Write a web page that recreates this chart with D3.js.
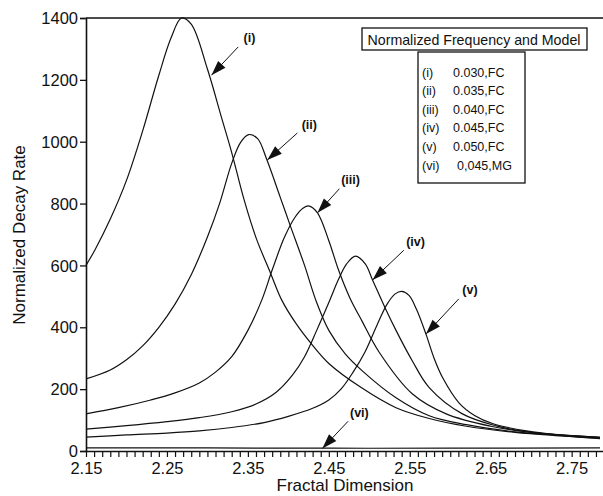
<!DOCTYPE html>
<html><head><meta charset="utf-8">
<script src="https://cdn.jsdelivr.net/npm/d3@7"></script>
<style>
html,body{margin:0;padding:0;background:#fff;}
svg{display:block;font-family:"Liberation Sans",Arial,Helvetica,sans-serif;}
</style></head>
<body>
<svg id="chart" width="603" height="496"></svg>
<script>
// ---- data ----
const d_i  = [2.15,2.161,2.18,2.20,2.22,2.24,2.255,2.268,2.28,2.30,2.317,2.33,2.345,2.36,2.378,2.392,2.41,2.428,2.45,2.49,2.533,2.574,2.62,2.68,2.73,2.785];
const v_i  = [600,650,750,875,1035,1215,1335,1400,1380,1235,1082,965,815,690,575,487,410,348,283,205,140,105,80,60,50,42];
const d_ii = [2.15,2.18,2.20,2.22,2.24,2.26,2.28,2.30,2.315,2.33,2.341,2.351,2.362,2.373,2.39,2.403,2.42,2.434,2.45,2.47,2.491,2.533,2.574,2.62,2.68,2.73,2.785];
const v_ii = [233,262,295,340,400,475,570,692,800,930,998,1023,1010,945,820,724,600,487,390,315,260,172,114,85,62,52,43];
const d_iii = [2.15,2.19,2.23,2.26,2.29,2.31,2.33,2.35,2.367,2.38,2.395,2.408,2.418,2.426,2.436,2.45,2.462,2.476,2.491,2.512,2.553,2.595,2.65,2.70,2.785];
const v_iii = [120,140,165,188,220,255,305,390,487,585,690,755,785,792,770,680,585,495,420,320,185,120,80,60,44];
const d_iv = [2.15,2.2,2.25,2.29,2.33,2.36,2.385,2.405,2.42,2.435,2.45,2.462,2.472,2.483,2.495,2.504,2.52,2.533,2.553,2.574,2.615,2.657,2.70,2.785];
const v_iv = [71,82,95,108,127,152,190,245,305,390,480,555,605,630,605,553,460,390,292,205,120,81,60,44];
const d_v  = [2.15,2.2,2.25,2.29,2.33,2.37,2.40,2.43,2.45,2.465,2.48,2.495,2.51,2.522,2.532,2.54,2.549,2.558,2.570,2.58,2.591,2.611,2.63,2.653,2.694,2.74,2.785];
const v_v  = [45,52,58,65,76,92,112,138,165,200,255,322,410,475,508,516,503,460,378,300,235,155,115,88,65,50,40];
const d_vi = [2.15,2.3,2.45,2.6,2.785];
const v_vi = [10,10,9,9,10];

const seriesNames = ["(i)","(ii)","(iii)","(iv)","(v)","(vi)"];
const legendValues = ["0.030,FC","0.035,FC","0.040,FC","0.045,FC","0.050,FC","0,045,MG"];
const xTickValues = [2.15,2.25,2.35,2.45,2.55,2.65,2.75];
const yTickValues = [0,200,400,600,800,1000,1200,1400];
// arrow tips on the curves (data coords)
const arrowTipD = [2.305,2.374,2.436,2.504,2.570,2.442];
const arrowTipV = [1215,941,770,553,378,8];

const legendTitle = "Normalized Frequency and Model";
const xTitle = "Fractal Dimension";
const yTitle = "Normalized Decay Rate";

// ---- layout ----
const svg = d3.select("#chart");
const L = 86, R = 600, T = 18, B = 451;
const x = d3.scaleLinear().domain([2.15, 2.785]).range([L, R]);
const y = d3.scaleLinear().domain([0, 1400]).range([B, T]);

const series = [
  [d_i,v_i],[d_ii,v_ii],[d_iii,v_iii],[d_iv,v_iv],[d_v,v_v],[d_vi,v_vi]
];

// curves
const line = d3.line().x(p=>x(p[0])).y(p=>y(p[1])).curve(d3.curveCatmullRom.alpha(0.5));
const gCurves = svg.append("g");
series.forEach(([ds,vs])=>{
  gCurves.append("path")
    .datum(ds.map((d,k)=>[d,vs[k]]))
    .attr("d", line)
    .attr("fill","none").attr("stroke","#111").attr("stroke-width",1.2);
});

// frame: top line
svg.append("line").attr("x1",L).attr("x2",603).attr("y1",T).attr("y2",T)
  .attr("stroke","#111").attr("stroke-width",1.3);

const FONT = "'Liberation Sans',Arial,sans-serif";
// y axis
const yAxis = d3.axisLeft(y).tickValues(yTickValues).tickSize(6).tickPadding(2).tickFormat(d3.format("d"));
const gy = svg.append("g").attr("transform",`translate(${L},0)`).call(yAxis);
gy.select(".domain").attr("stroke","#111").attr("stroke-width",1.6);
gy.selectAll(".tick line").attr("stroke","#111").attr("stroke-width",1.3);
gy.selectAll(".tick text").attr("font-size",16.5).attr("fill","#111")
  .attr("font-family",FONT).attr("dy","0.34em");

// x axis with minor ticks
const minor = d3.range(0, 64).map(k => +(2.15 + k*0.01).toFixed(2)).filter(v=>v<=2.785);
const gxMinor = svg.append("g").attr("transform",`translate(0,${B})`)
  .call(d3.axisBottom(x).tickValues(minor).tickSize(6).tickFormat(""));
gxMinor.select(".domain").attr("stroke","#111").attr("stroke-width",1.6).attr("d",`M${L},0.5H603`);
gxMinor.selectAll(".tick line").attr("stroke","#111").attr("stroke-width",1.2);
const gx = svg.append("g").attr("transform",`translate(0,${B})`)
  .call(d3.axisBottom(x).tickValues(xTickValues).tickSize(0).tickPadding(0).tickFormat(d3.format(".2f")));
gx.select(".domain").remove();
gx.selectAll(".tick text").attr("font-size",16.5).attr("fill","#111")
  .attr("font-family",FONT).attr("dy",null).attr("y",23);

// axis titles
svg.append("text").attr("x",345).attr("y",491).attr("text-anchor","middle")
  .attr("font-size",17).attr("fill","#111").text(xTitle);
svg.append("text").attr("transform","translate(25,235) rotate(-90)").attr("text-anchor","middle")
  .attr("font-size",17).attr("fill","#111").text(yTitle);

// annotation arrows
const offsets = [[35,-37],[39,-35],[30,-33],[40,-38],[41,-44],[34,-36]];
const gA = svg.append("g");
arrowTipD.forEach((dv,k)=>{
  const tx = x(dv), ty = y(arrowTipV[k]);
  const [ox,oy] = offsets[k];
  const lx = tx+ox, ly = ty+oy;
  const len = Math.hypot(ox,oy);
  const ux = ox/len, uy = oy/len;
  const sx = tx + ux*(len-12), sy = ty + uy*(len-12);
  gA.append("line").attr("x1",tx).attr("y1",ty).attr("x2",sx).attr("y2",sy)
    .attr("stroke","#111").attr("stroke-width",1);
  const hl = 15, hw = 5;
  const bx = tx + ux*hl, by = ty + uy*hl;
  const pts = [[tx,ty],[bx - uy*hw, by + ux*hw],[bx + uy*hw, by - ux*hw]];
  gA.append("polygon").attr("points",pts.map(p=>p.join(",")).join(" ")).attr("fill","#111");
  gA.append("text").attr("x",lx+3).attr("y",ly+4).attr("text-anchor","middle")
    .attr("font-size",12.5).attr("font-weight","bold").attr("fill","#111").text(seriesNames[k]);
});

// legend
svg.append("rect").attr("x",362).attr("y",28).attr("width",225).attr("height",22)
  .attr("fill","#fff").attr("stroke","#111").attr("stroke-width",1.3);
svg.append("text").attr("x",474).attr("y",44.5).attr("text-anchor","middle")
  .attr("font-size",14.2).attr("fill","#111").text(legendTitle);
svg.append("rect").attr("x",418).attr("y",52).attr("width",107).attr("height",131)
  .attr("fill","#fff").attr("stroke","#111").attr("stroke-width",1.3);
seriesNames.forEach((nm,k)=>{
  const yy = 76.5 + k*18.6;
  svg.append("text").attr("x",422).attr("y",yy).attr("font-size",12.5).attr("fill","#111").text(nm);
  svg.append("text").attr("x",k===5?457:453).attr("y",yy).attr("font-size",12.5).attr("fill","#111").text(legendValues[k]);
});
</script>
</body></html>
